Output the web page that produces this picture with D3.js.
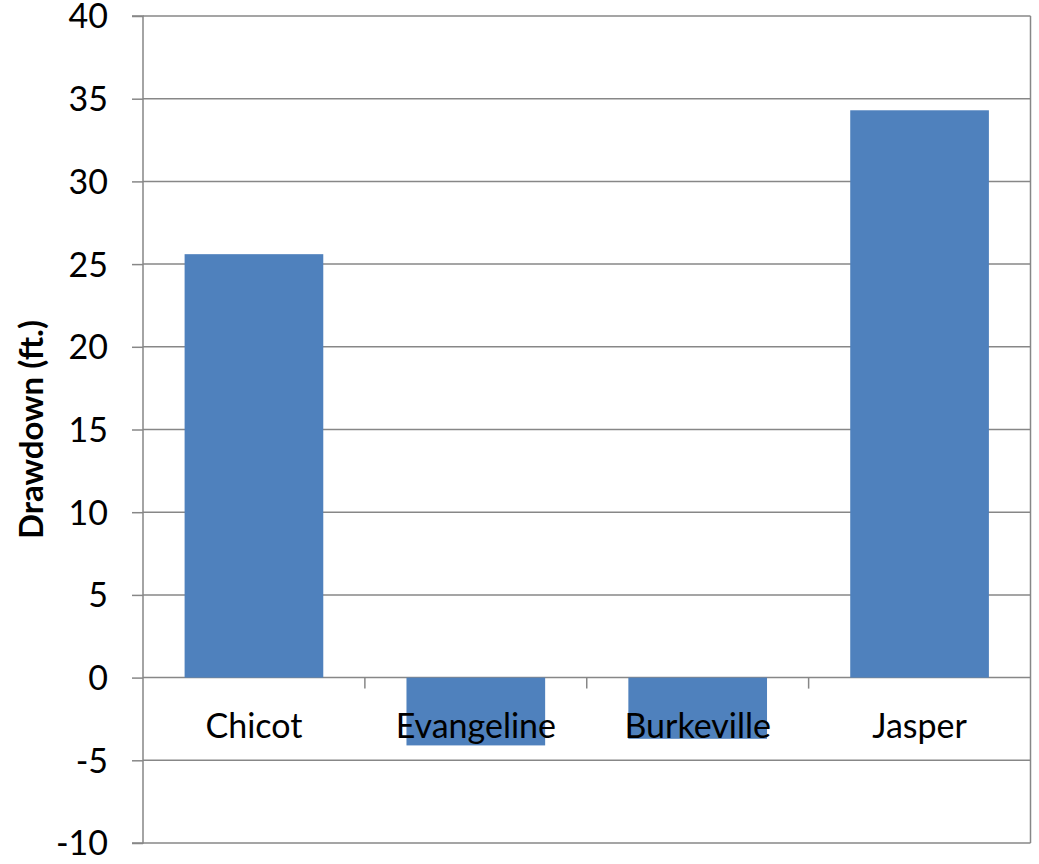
<!DOCTYPE html>
<html>
<head>
<meta charset="utf-8">
<script src="https://cdn.jsdelivr.net/npm/d3@7"></script>
<style>
  html, body { margin: 0; padding: 0; background: #fff; }
  svg text { font-family: Lato, "Open Sans", sans-serif; fill: #000; }
</style>
</head>
<body>
<svg id="chart" width="1039" height="864"></svg>
<script>
// Drawdown by aquifer unit (ft.)
const categories = ["Chicot", "Evangeline", "Burkeville", "Jasper"];
const drawdown = [25.6, -4.1, -3.7, 34.3];
const yTicks = [-10, -5, 0, 5, 10, 15, 20, 25, 30, 35, 40];
const yTitle = "Drawdown (ft.)";

const svg = d3.select("#chart");
const margin = { left: 143, right: 8.5, top: 16, bottom: 21 };
const W = 1039, H = 864;
const x0 = margin.left, x1 = W - margin.right;
const y0 = margin.top, y1 = H - margin.bottom;

const x = d3.scaleBand().domain(categories).range([x0, x1])
  .paddingInner(0.375).paddingOuter(0.1875);
const y = d3.scaleLinear().domain([-10, 40]).range([y1, y0]);

const gridColor = "#878787";
const labelSize = 34;

// horizontal gridlines
svg.append("g").selectAll("line").data(yTicks).join("line")
  .attr("x1", x0).attr("x2", x1)
  .attr("y1", d => y(d)).attr("y2", d => y(d))
  .attr("stroke", gridColor).attr("stroke-width", 1.5);

// right border of plot area
svg.append("line").attr("x1", x1).attr("x2", x1).attr("y1", y0).attr("y2", y1)
  .attr("stroke", gridColor).attr("stroke-width", 1.5);

// bars
svg.append("g").selectAll("rect").data(drawdown).join("rect")
  .attr("x", (d, i) => x(categories[i]))
  .attr("width", x.bandwidth())
  .attr("y", d => y(Math.max(0, d)))
  .attr("height", d => Math.abs(y(d) - y(0)))
  .attr("fill", "#4f81bd");

// y axis
const yAxis = d3.axisLeft(y).tickValues(yTicks).tickSize(11).tickPadding(24)
  .tickFormat(d => String(d));
const gy = svg.append("g").attr("transform", `translate(${x0},0)`).call(yAxis);
gy.select(".domain").attr("stroke", gridColor).attr("stroke-width", 1.5)
  .attr("d", `M-11,${y0}H0V${y1}H-11`);
gy.selectAll(".tick line").attr("stroke", gridColor).attr("stroke-width", 1.5);
gy.selectAll(".tick text").attr("font-size", labelSize).attr("font-family", "Lato, sans-serif")
  .attr("fill", "#000").attr("dy", "0.35em");

// category axis at zero
const xAxis = d3.axisBottom(x).tickSize(0).tickPadding(0);
const gx = svg.append("g").attr("transform", `translate(0,${y(0)})`).call(xAxis);
gx.select(".domain").remove();
gx.selectAll(".tick text").attr("font-size", labelSize).attr("font-family", "Lato, sans-serif")
  .attr("fill", "#000").attr("dy", "0").attr("y", 60);

// category dividers below the zero line
const bounds = categories.slice(1).map(c => x(c) - x.step() * x.paddingInner() / 2);
svg.append("g").selectAll("line").data(bounds).join("line")
  .attr("x1", d => d).attr("x2", d => d)
  .attr("y1", y(0)).attr("y2", y(0) + 11)
  .attr("stroke", gridColor).attr("stroke-width", 1.5);

// y axis title
svg.append("text")
  .attr("transform", `translate(43,${(y0 + y1) / 2}) rotate(-90)`)
  .attr("text-anchor", "middle")
  .attr("font-size", 33).attr("font-weight", "bold")
  .text(yTitle);
</script>
</body>
</html>
